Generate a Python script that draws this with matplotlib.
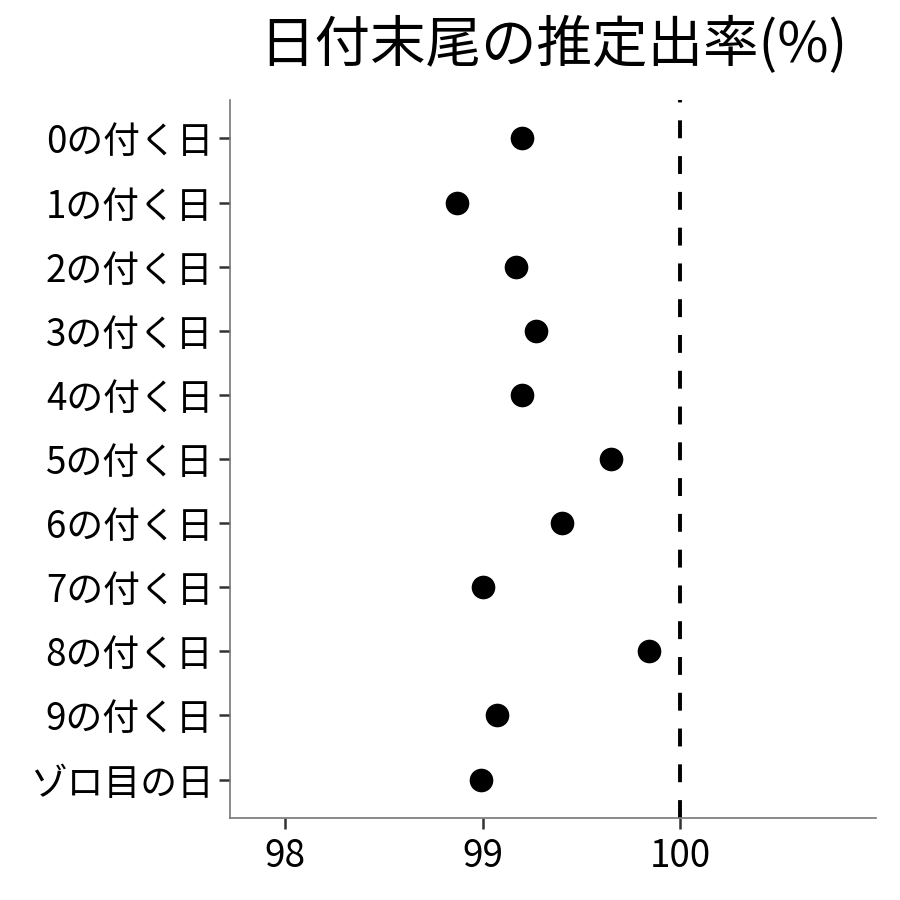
import matplotlib
matplotlib.use("Agg")
import matplotlib.pyplot as plt

plt.rcParams["font.family"] = ["Noto Sans CJK JP", "DejaVu Sans"]

labels = ["0の付く日", "1の付く日", "2の付く日", "3の付く日", "4の付く日",
          "5の付く日", "6の付く日", "7の付く日", "8の付く日", "9の付く日", "ゾロ目の日"]
rates = [99.20, 98.87, 99.17, 99.27, 99.20, 99.65, 99.40, 99.00, 99.84, 99.07, 98.99]
xticks = [98, 99, 100]
ref_rate = 100

fig = plt.figure(figsize=(9, 9), dpi=100)
ax = fig.add_axes([0.2556, 0.0911, 0.7177, 0.7978])

ypos = list(range(len(labels)))[::-1]
ax.axvline(ref_rate, color="black", lw=2.8, ls=(0, (4.6, 4.6)), zorder=1)
ax.scatter(rates, ypos, s=290, color="black", zorder=3, linewidths=0)

ax.set_yticks(ypos)
ax.set_yticklabels(labels)
ax.set_xticks(xticks)
ax.set_xticklabels([str(t) for t in xticks])
ax.set_xlim(97.72, 100.99)
ax.set_ylim(-0.6, len(labels) - 0.4)

for s in ["top", "right"]:
    ax.spines[s].set_visible(False)
for s in ["left", "bottom"]:
    ax.spines[s].set_color("#777777")
    ax.spines[s].set_linewidth(1.2)
ax.tick_params(axis="both", length=8, width=1.8, color="#333333", labelsize=26.5,
               labelcolor="black")
ax.tick_params(axis="y", pad=4)
ax.tick_params(axis="x", pad=6)

ax.set_title("日付末尾の推定出率(%)", fontsize=40, pad=27)

fig.savefig("out.png")
